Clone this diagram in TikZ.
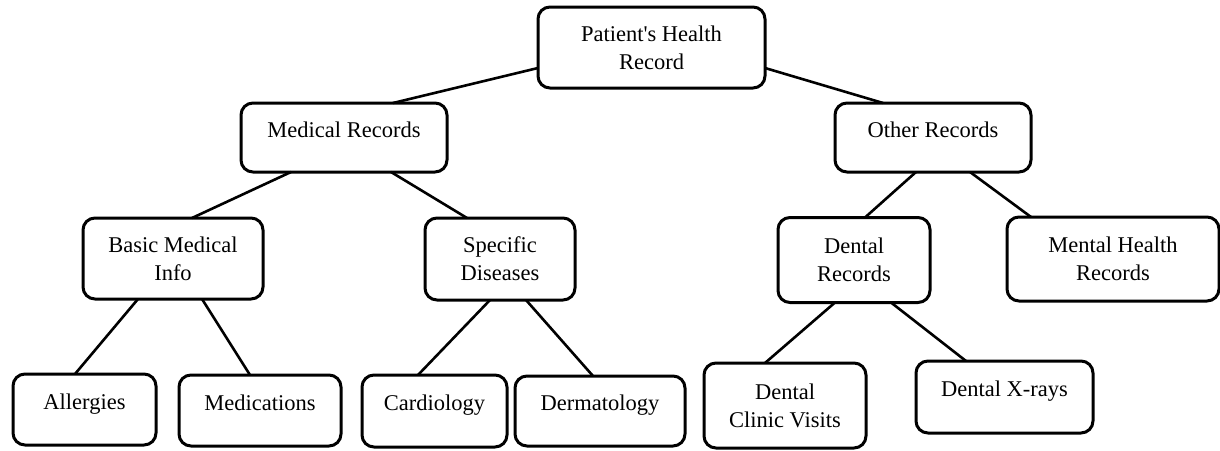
\documentclass[tikz,border=0pt]{standalone}
\usepackage{fontspec}
\setmainfont{Liberation Serif}
\tikzset{every picture/.style={line width=3pt}}
\tikzset{
  recbox/.style={draw, rounded corners=12pt, inner sep=0pt, outer sep=0pt,
    align=center, font=\fontsize{22.5}{28}\selectfont},
  oneline/.style={text height=16pt, text depth=17pt},
  link/.style={line width=2.6pt}
}
\begin{document}
\begin{tikzpicture}[x=1pt,y=1pt,yscale=-1,xscale=1]
\useasboundingbox (0,0) rectangle (1220,450);

%Rounded Rect: top
\node [recbox, minimum width=227pt, minimum height=81pt] (root) at (651.5,47.5) {Patient\textquotesingle s Health\\Record};
%Rounded Rect: second row
\node [recbox, oneline, minimum width=206pt, minimum height=69pt] (med) at (344,137.5) {Medical Records};
\node [recbox, oneline, minimum width=196pt, minimum height=69pt] (other) at (933,137.5) {Other Records};
%Rounded Rect: third row
\node [recbox, minimum width=180pt, minimum height=81pt] (basic) at (173,258.5) {Basic Medical\\Info};
\node [recbox, minimum width=150pt, minimum height=82pt] (spec) at (500,259) {Specific\\Diseases};
\node [recbox, minimum width=152pt, minimum height=85pt] (dental) at (854,260) {Dental\\Records};
\node [recbox, minimum width=212pt, minimum height=84pt] (mental) at (1113,259) {Mental Health\\Records};
%Rounded Rect: bottom row
\node [recbox, oneline, minimum width=143pt, minimum height=71pt] (allerg) at (84.5,409.5) {Allergies};
\node [recbox, oneline, minimum width=162pt, minimum height=71pt] (medic) at (260,410.5) {Medications};
\node [recbox, oneline, minimum width=145pt, minimum height=72pt] (cardio) at (434.5,411) {Cardiology};
\node [recbox, oneline, minimum width=170pt, minimum height=70pt] (derma) at (600,411) {Dermatology};
\node [recbox, minimum width=162pt, minimum height=85pt] (clinic) at (785,405.5) {Dental\\Clinic Visits};
\node [recbox, oneline, minimum width=177pt, minimum height=72pt] (xray) at (1004.5,397) {Dental X-rays};

%Straight Lines
\draw [link] (root.west |- 0,68) -- (med.north -| 393,0);
\draw [link] (root.east |- 0,68) -- (other.north -| 883,0);
\draw [link] (med.south -| 291,0) -- (basic.north -| 192,0);
\draw [link] (med.south -| 391,0) -- (spec.north -| 467,0);
\draw [link] (basic.south -| 138,0) -- (allerg.north -| 75,0);
\draw [link] (basic.south -| 202,0) -- (medic.north -| 250,0);
\draw [link] (spec.south -| 490,0) -- (cardio.north -| 418,0);
\draw [link] (spec.south -| 526,0) -- (derma.north -| 593,0);
\draw [link] (other.south -| 916,0) -- (dental.north -| 865,0);
\draw [link] (other.south -| 970,0) -- (mental.north -| 1031,0);
\draw [link] (dental.south -| 835,0) -- (clinic.north -| 765,0);
\draw [link] (dental.south -| 891,0) -- (xray.north -| 966,0);

\end{tikzpicture}
\end{document}
